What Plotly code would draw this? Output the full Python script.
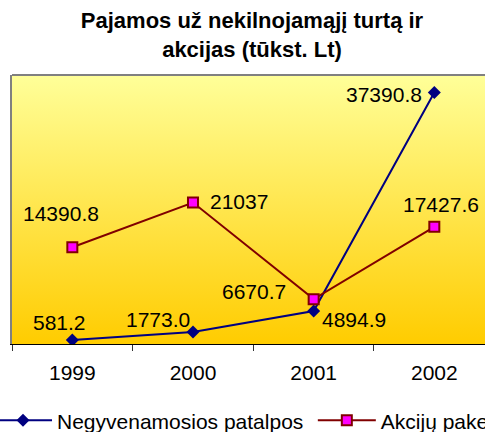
import base64
import plotly.graph_objects as go

# ---- data ----
years = ["1999", "2000", "2001", "2002"]
patalpos = [581.2, 1773.0, 4894.9, 37390.8]
akcijos = [14390.8, 21037, 6670.7, 17427.6]
patalpos_labels = ["581.2", "1773.0", "4894.9", "37390.8"]
akcijos_labels = ["14390.8", "21037", "6670.7", "17427.6"]
series_names = ["Negyvenamosios patalpos", "Akcijų paketai"]
title_lines = ["Pajamos už nekilnojamąjį turtą ir", "akcijas (tūkst. Lt)"]

# label offsets in pixels (styling only)
patalpos_offsets = [(-13, 18), (-35, 13), (40, -8), (-50, -2)]
akcijos_offsets = [(-11, 34), (46, 1), (-60, 8), (7, 22)]

FONT = "Liberation Sans, Arial, sans-serif"
NAVY = "#000080"
DARKRED = "#800000"
MAGENTA = "#FF00FF"

# gradient background for the plot area
svg = (
    '<svg xmlns="http://www.w3.org/2000/svg" width="100" height="100" '
    'preserveAspectRatio="none"><defs><linearGradient id="g" x1="0" y1="0" '
    'x2="0" y2="1"><stop offset="0" stop-color="#FFFF99"/>'
    '<stop offset="1" stop-color="#FFCC00"/></linearGradient></defs>'
    '<rect width="100" height="100" fill="url(#g)"/></svg>'
)
bg_src = "data:image/svg+xml;base64," + base64.b64encode(svg.encode()).decode()

fig = go.Figure()
fig.add_trace(go.Scatter(
    x=years, y=patalpos, mode="lines+markers", name=series_names[0],
    line=dict(color=NAVY, width=2),
    marker=dict(symbol="diamond", size=10, color=NAVY),
    legend="legend",
))
fig.add_trace(go.Scatter(
    x=years, y=akcijos, mode="lines+markers", name=series_names[1],
    line=dict(color=DARKRED, width=2),
    marker=dict(symbol="square", size=10, color=MAGENTA,
                line=dict(color=DARKRED, width=2)),
    legend="legend2",
))

annotations = []
for ys, labels, offs in [(patalpos, patalpos_labels, patalpos_offsets),
                         (akcijos, akcijos_labels, akcijos_offsets)]:
    for i, (yv, lab, (dx, dy)) in enumerate(zip(ys, labels, offs)):
        annotations.append(dict(
            x=i, y=yv, xref="x", yref="y", text=lab, showarrow=False,
            xshift=dx, yshift=dy, font=dict(family=FONT, size=21, color="black"),
            xanchor="center", yanchor="middle",
        ))

fig.update_layout(
    width=485, height=432,
    margin=dict(l=12, r=0, t=75, b=88, autoexpand=False),
    paper_bgcolor="white", plot_bgcolor="#FFE680",
    font=dict(family=FONT, size=21, color="black"),
    title=dict(
        text="<b>" + title_lines[0] + "</b><br><b>" + title_lines[1] + "</b>",
        x=252 / 485, xanchor="center", xref="container",
        y=1 - 28 / 432, yanchor="top", yref="container",
        font=dict(family=FONT, size=22, color="black"),
    ),
    xaxis=dict(
        type="category", range=[-0.5, 3.42], tickson="boundaries",
        ticks="outside", ticklen=6, tickcolor="#333333", tickwidth=1,
        ticklabelstandoff=10,
        showline=True, linecolor="black", linewidth=1, showgrid=False,
        tickfont=dict(family=FONT, size=21, color="black"), fixedrange=True,
    ),
    yaxis=dict(
        range=[0, 40000], showticklabels=False, showgrid=False, zeroline=False,
        showline=True, linecolor="#808080", linewidth=2, ticks="",
        fixedrange=True,
    ),
    images=[dict(source=bg_src, xref="x domain", yref="y domain", x=0, y=1,
                 sizex=1, sizey=1, xanchor="left", yanchor="top",
                 sizing="stretch", layer="below")],
    shapes=[dict(type="line", xref="x domain", yref="y domain", x0=0, x1=1,
                 y0=1, y1=1, line=dict(color="#808080", width=2))],
    annotations=annotations,
    legend=dict(orientation="h", x=-0.0486, xanchor="left", y=-0.285,
                yanchor="middle", itemwidth=58, bgcolor="rgba(0,0,0,0)",
                font=dict(family=FONT, size=21, color="black")),
    legend2=dict(orientation="h", x=0.636, xanchor="left", y=-0.285,
                 yanchor="middle", itemwidth=58, bgcolor="rgba(0,0,0,0)",
                 font=dict(family=FONT, size=21, color="black")),
    showlegend=True,
)

fig.write_html("out.html", config={"displayModeBar": False},
               post_script="document.body.style.margin='0';")
